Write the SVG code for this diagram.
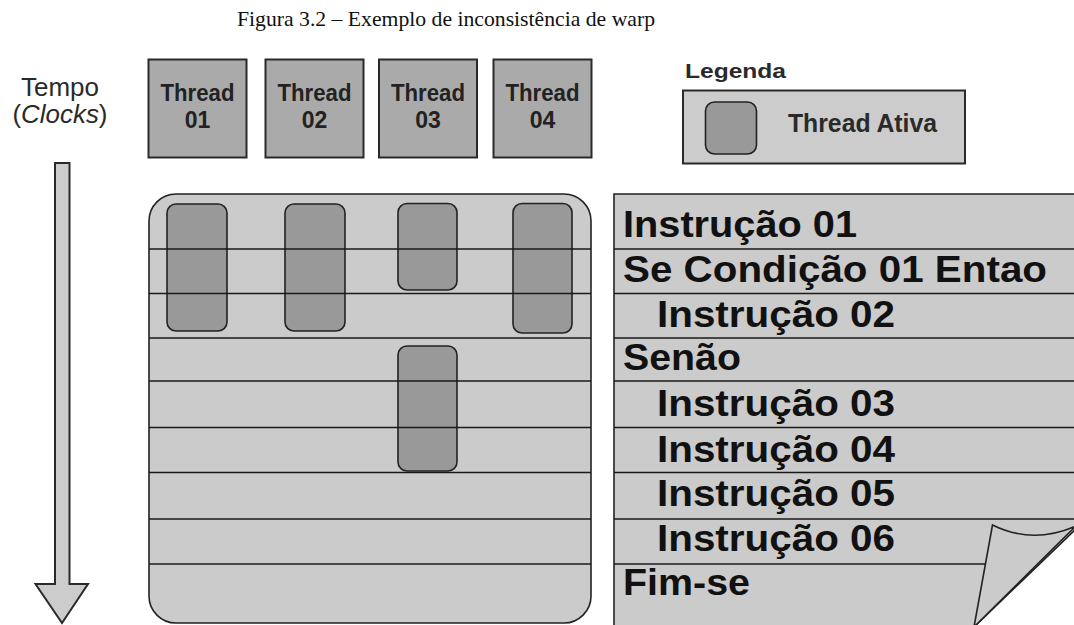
<svg xmlns="http://www.w3.org/2000/svg" width="1074" height="625" viewBox="0 0 1074 625">
<style>
.hdr{fill:#aaaaaa;stroke:#2a2a2a;stroke-width:2}
.act{fill:#999999;stroke:#222;stroke-width:1.6}
.pane{fill:#cbcbcb;stroke:#222;stroke-width:1.6}
.row{stroke:#1a1a1a;stroke-width:1.6;fill:none}
.th{font-family:"Liberation Sans",Arial,sans-serif;font-weight:bold;font-size:23px;fill:#222;text-anchor:middle}
.ins{font-family:"Liberation Sans",Arial,sans-serif;font-weight:bold;font-size:36px;fill:#111}
.lbl{font-family:"Liberation Sans",Arial,sans-serif;fill:#2a2a2a}
</style>
<rect width="1074" height="625" fill="#ffffff"/>
<text x="446" y="26" font-family="Liberation Serif,'Times New Roman',serif" font-size="21" fill="#111" text-anchor="middle" textLength="418" lengthAdjust="spacingAndGlyphs">Figura 3.2 – Exemplo de inconsistência de warp</text>

<g id="tempo-label">
<text class="lbl" x="60" y="95.5" font-size="25" text-anchor="middle" textLength="78" lengthAdjust="spacingAndGlyphs">Tempo</text>
<text class="lbl" x="60" y="123" font-size="25" text-anchor="middle" textLength="95" lengthAdjust="spacingAndGlyphs">(<tspan font-style="italic">Clocks</tspan>)</text>
</g>

<g id="thread01"><rect class="hdr" x="148.5" y="59.5" width="98" height="98"/><text class="th" x="197.5" y="101" textLength="74" lengthAdjust="spacingAndGlyphs">Thread</text><text class="th" x="197.5" y="128">01</text></g>
<g id="thread02"><rect class="hdr" x="265.5" y="59.5" width="98" height="98"/><text class="th" x="314.5" y="101" textLength="74" lengthAdjust="spacingAndGlyphs">Thread</text><text class="th" x="314.5" y="128">02</text></g>
<g id="thread03"><rect class="hdr" x="379" y="59.5" width="98" height="98"/><text class="th" x="428" y="101" textLength="74" lengthAdjust="spacingAndGlyphs">Thread</text><text class="th" x="428" y="128">03</text></g>
<g id="thread04"><rect class="hdr" x="493.5" y="59.5" width="98" height="98"/><text class="th" x="542.5" y="101" textLength="74" lengthAdjust="spacingAndGlyphs">Thread</text><text class="th" x="542.5" y="128">04</text></g>

<g id="legend">
<text class="lbl" x="685" y="77.5" font-size="20" font-weight="bold" fill="#333" textLength="101" lengthAdjust="spacingAndGlyphs">Legenda</text>
<rect x="683" y="90.5" width="282" height="73" fill="#cccccc" stroke="#2a2a2a" stroke-width="2"/>
<rect class="act" x="705.5" y="102" width="51" height="52" rx="9"/>
<text class="lbl" x="788" y="131.5" font-size="25" font-weight="bold" textLength="149" lengthAdjust="spacingAndGlyphs">Thread Ativa</text>
</g>

<g id="warp-grid">
<rect class="pane" x="149" y="194" width="442" height="429" rx="27"/>
<rect class="act" x="167" y="204" width="60" height="127" rx="9"/>
<rect class="act" x="285" y="204" width="60" height="127" rx="9"/>
<rect class="act" x="398" y="203.5" width="59" height="86.5" rx="9"/>
<rect class="act" x="513" y="203.5" width="59" height="129.5" rx="9"/>
<rect class="act" x="398" y="346" width="59" height="125" rx="9"/>
<g class="row">
<line x1="149" y1="249" x2="591" y2="249"/>
<line x1="149" y1="293.5" x2="591" y2="293.5"/>
<line x1="149" y1="338" x2="591" y2="338"/>
<line x1="149" y1="381" x2="591" y2="381"/>
<line x1="149" y1="427.5" x2="591" y2="427.5"/>
<line x1="149" y1="472.5" x2="591" y2="472.5"/>
<line x1="149" y1="519" x2="591" y2="519"/>
<line x1="149" y1="564" x2="591" y2="564"/>
</g>
</g>

<g id="code-page">
<path class="pane" d="M614,194 H1076 V529 L974,627 H614 Z"/>
<g class="row">
<line x1="614" y1="249" x2="1074" y2="249"/>
<line x1="614" y1="293.5" x2="1074" y2="293.5"/>
<line x1="614" y1="338" x2="1074" y2="338"/>
<line x1="614" y1="381" x2="1074" y2="381"/>
<line x1="614" y1="427.5" x2="1074" y2="427.5"/>
<line x1="614" y1="472.5" x2="1074" y2="472.5"/>
<line x1="614" y1="519" x2="1074" y2="519"/>
<line x1="614" y1="564" x2="987" y2="564"/>
</g>
<path d="M992.5,525 Q1033,545 1076,526 L974,627 Z" fill="#cbcbcb" stroke="#222" stroke-width="1.6" stroke-linejoin="miter"/>
<text class="ins" x="623" y="237" textLength="234" lengthAdjust="spacingAndGlyphs">Instrução 01</text>
<text class="ins" x="623" y="282" textLength="424" lengthAdjust="spacingAndGlyphs">Se Condição 01 Entao</text>
<text class="ins" x="657" y="327" textLength="238" lengthAdjust="spacingAndGlyphs">Instrução 02</text>
<text class="ins" x="623" y="369.5" textLength="118" lengthAdjust="spacingAndGlyphs">Senão</text>
<text class="ins" x="657" y="416" textLength="238" lengthAdjust="spacingAndGlyphs">Instrução 03</text>
<text class="ins" x="657" y="461.5" textLength="238" lengthAdjust="spacingAndGlyphs">Instrução 04</text>
<text class="ins" x="657" y="505.5" textLength="238" lengthAdjust="spacingAndGlyphs">Instrução 05</text>
<text class="ins" x="657" y="551" textLength="238" lengthAdjust="spacingAndGlyphs">Instrução 06</text>
<text class="ins" x="623" y="595" textLength="127" lengthAdjust="spacingAndGlyphs">Fim-se</text>
</g>

<g id="connectors">
<path d="M55,163 H69.5 V584 H88 L62,623 L35.5,584 H55 Z" fill="#cccccc" stroke="#2a2a2a" stroke-width="2" stroke-linejoin="miter"/>
</g>
</svg>
